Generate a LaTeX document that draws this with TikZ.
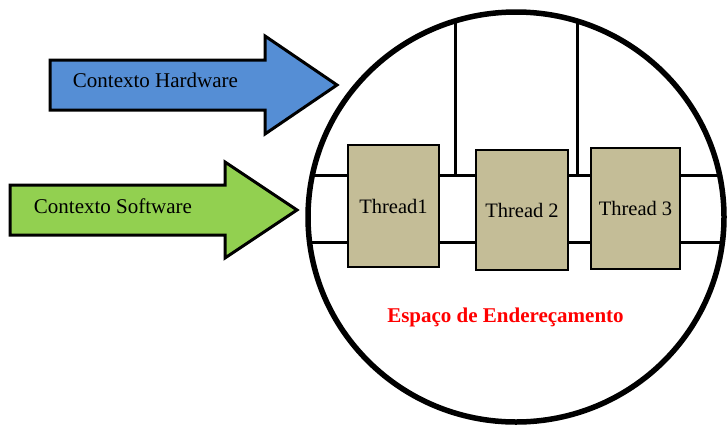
\documentclass[tikz,border=0pt]{standalone}
\usepackage{fontspec}
\setmainfont{Liberation Serif}
\usetikzlibrary{backgrounds}
\definecolor{hwblue}{RGB}{85,142,213}
\definecolor{swgreen}{RGB}{146,208,80}
\definecolor{threadtan}{RGB}{196,189,151}
\definecolor{labelred}{RGB}{255,0,0}
\begin{document}
\begin{tikzpicture}[x=1pt,y=-1pt,
  bigarrow/.style={draw=black, line width=3pt, line join=miter},
  lbl/.style={font=\fontsize{21}{24}\selectfont, inner sep=0pt, text=black},
  link/.style={draw=black, line width=3pt},
  threadbox/.style={draw=black, line width=2.2pt, fill=threadtan, inner sep=0pt,
    font=\fontsize{20.5}{24}\selectfont},
  space/.style={draw=black, line width=5.5pt}]
\useasboundingbox (0,0) rectangle (727,426);

% context arrows
\draw[bigarrow, fill=hwblue] (50,60) -- (265,60) -- (265,36) -- (337,85)
  -- (265,134) -- (265,110) -- (50,110) -- cycle;
\node[lbl] (hw) at (155.5,80) {Contexto Hardware};

\draw[bigarrow, fill=swgreen] (10,185) -- (225,185) -- (225,162) -- (297,210)
  -- (225,258) -- (225,235) -- (10,235) -- cycle;
\node[lbl] (sw) at (113,206) {Contexto Software};

% thread boxes
\node[threadbox, minimum width=91pt, minimum height=122pt] (t1) at (393.5,206) {Thread1};
\node[threadbox, minimum width=92pt, minimum height=120pt] (t2) at (522,210) {Thread 2};
\node[threadbox, minimum width=89pt, minimum height=121pt] (t3) at (635.5,208.5) {Thread 3};

% ends of the links on the address-space border
\coordinate (la) at (312.4,175);
\coordinate (lb) at (309.6,242);
\coordinate (ra) at (719.6,175);
\coordinate (rb) at (722.4,242);
\coordinate (ua) at (455,21);
\coordinate (ub) at (577,21);

% links between the threads, kept behind the boxes
\begin{scope}[on background layer]
\draw[link] (la) -- (la -| t1.west);
\draw[link] (lb) -- (lb -| t1.west);
\draw[link] (la -| t1.east) -- (la -| t2.west);
\draw[link] (lb -| t1.east) -- (lb -| t2.west);
\draw[link] (la -| t2.east) -- (la -| t3.west);
\draw[link] (lb -| t2.east) -- (lb -| t3.west);
\draw[link] (la -| t3.east) -- (ra);
\draw[link] (lb -| t3.east) -- (rb);
\draw[link] (ua) -- (ua |- la);
\draw[link] (ub) -- (ub |- la);
\end{scope}

% address space
\draw[space] (516,217) ellipse [x radius=208, y radius=205];
\node[lbl, font=\fontsize{21}{24}\selectfont\bfseries, text=labelred] (as) at (505.5,317)
  {Espaço de Endereçamento};
\end{tikzpicture}
\end{document}
